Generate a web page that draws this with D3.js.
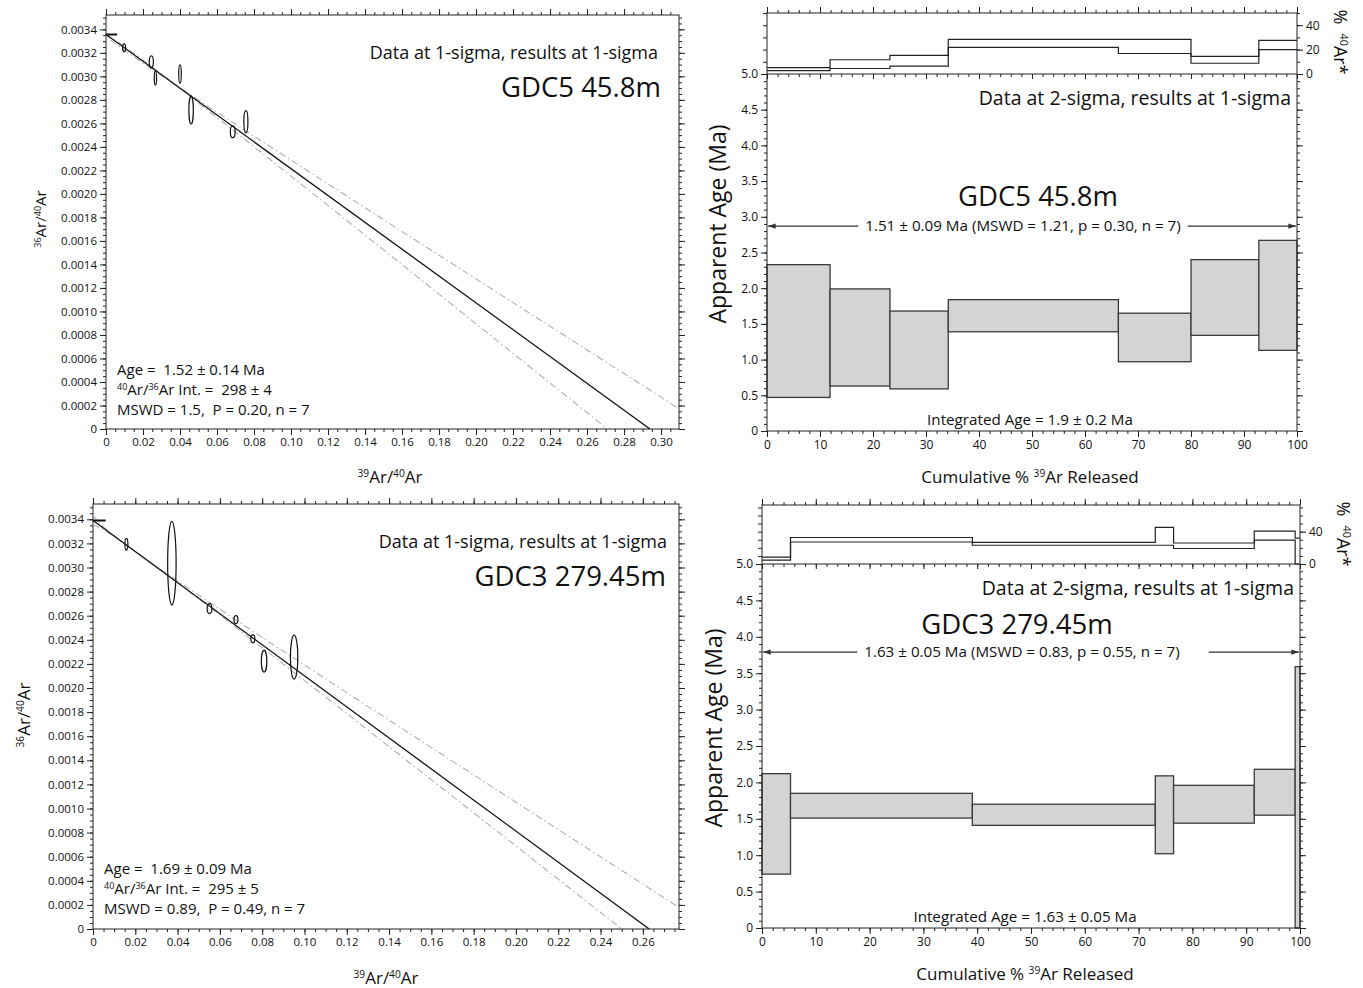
<!DOCTYPE html>
<html>
<head>
<meta charset="utf-8">
<title>GDC5 / GDC3 Ar-Ar isochrons and age spectra</title>
<script src="https://d3js.org/d3.v7.min.js"></script>
<style>
    body { margin: 0; background: #fff; }
    svg { display: block; font-family: "Open Sans", sans-serif; }
    svg text { white-space: pre; }
</style>
</head>
<body>
<div id="chart"></div>
<script>
// ---------- isochron data: 39Ar/40Ar, 36Ar/40Ar, half-widths of the error ellipses
var gdc5IsoX  = [0.0098, 0.0245, 0.0267, 0.0400, 0.0460, 0.0685, 0.0756];
var gdc5IsoY  = [0.003243, 0.003124, 0.002985, 0.003020, 0.002713, 0.002529, 0.002614];
var gdc5IsoSx = [0.0008, 0.0011, 0.0006, 0.0007, 0.0012, 0.0013, 0.0011];
var gdc5IsoSy = [0.000034, 0.000051, 0.000060, 0.000078, 0.000119, 0.000051, 0.000094];
var gdc5Fit   = [[0, 0.003356], [0.294, 0]];
var gdc5Upper = [[0, 0.00338], [0.045, 0.00285], [0.31, 0.00017]];
var gdc5Lower = [[0, 0.003331], [0.045, 0.002835], [0.271, 0]];

var gdc3IsoX  = [0.0158, 0.0373, 0.0551, 0.0676, 0.0756, 0.0809, 0.0951];
var gdc3IsoY  = [0.003193, 0.003036, 0.002659, 0.002568, 0.002408, 0.002223, 0.002256];
var gdc3IsoSx = [0.0007, 0.0020, 0.0011, 0.00095, 0.00095, 0.0013, 0.00175];
var gdc3IsoSy = [0.000048, 0.000346, 0.000042, 0.000033, 0.000033, 0.000091, 0.000183];
var gdc3Fit   = [[0, 0.00339], [0.263, 0]];
var gdc3Upper = [[0, 0.00344], [0.05, 0.00277], [0.277, 0.00018]];
var gdc3Lower = [[0, 0.003353], [0.05, 0.00274], [0.250, 0]];

// ---------- age spectra: cumulative % 39Ar step edges, age box limits (Ma), %40Ar* limits
var gdc5Steps = [0, 11.9, 23.2, 34.2, 66.3, 80.0, 92.8, 100];
var gdc5AgeHi = [2.33, 1.99, 1.68, 1.84, 1.65, 2.40, 2.67];
var gdc5AgeLo = [0.47, 0.63, 0.59, 1.39, 0.97, 1.34, 1.13];
var gdc5ArHi  = [5.3, 11.7, 15.2, 28.3, 28.3, 14.4, 27.5];
var gdc5ArLo  = [2.7, 4.5, 6.4, 21.9, 16.8, 8.8, 20.0];
var gdc5Plateau = 2.87;

var gdc3Steps = [0, 5.3, 39.1, 73.1, 76.5, 91.5, 99.1, 100];
var gdc3AgeHi = [2.12, 1.85, 1.70, 2.09, 1.96, 2.18, 3.59];
var gdc3AgeLo = [0.74, 1.51, 1.41, 1.02, 1.44, 1.55, 0];
var gdc3ArHi  = [8.4, 32.8, 26.8, 45.2, 26.0, 40.8, 32.0];
var gdc3ArLo  = [4.8, 27.2, 23.2, 23.2, 19.2, 29.6, 0];
var gdc3Plateau = 3.79;

var svg = d3.select("#chart").append("svg")
    .attr("width", 1363)
    .attr("height", 988);
var defs = svg.append("defs");
defs.append("marker")
    .attr("id", "arrow")
    .attr("viewBox", "0 0 10 10")
    .attr("refX", 10).attr("refY", 5)
    .attr("markerWidth", 9).attr("markerHeight", 7)
    .attr("orient", "auto-start-reverse")
    .append("path")
        .attr("d", "M0,1.5 L10,5 L0,8.5 z")
        .attr("fill", "#333");

function range(n, step) {
    return d3.range(0, n).map(function(i) { return i * step; });
}

function axis(g, gen, tx, ty, values, size, fmt, fs) {
    var a = g.append("g")
        .attr("transform", "translate(" + tx + "," + ty + ")")
        .call(gen.tickValues(values).tickSize(size).tickSizeOuter(0)
            .tickFormat(fmt || function() { return ""; }));
    a.select(".domain").remove();
    a.selectAll("line").attr("stroke", "#222");
    a.attr("font-family", null).attr("font-size", fs || 11);
    a.selectAll("text").attr("fill", "#111");
    return a;
}

// text with superscripts, parts starting with ^ are raised
function rich(t, parts, fs) {
    var up = false;
    parts.forEach(function(p) {
        var sup = p.charAt(0) === "^";
        var s = t.append("tspan").text(sup ? p.slice(1) : p);
        if (sup) {
            s.attr("font-size", fs * 0.6).attr("dy", -fs * 0.36);
            up = true;
        } else if (up) {
            s.attr("dy", fs * 0.36);
            up = false;
        }
    });
    return t;
}

function label(g, x, y, str, fs, anchor, rot) {
    var t = g.append("text")
        .attr("transform", "translate(" + x + "," + y + ")" + (rot ? " rotate(" + rot + ")" : ""))
        .attr("font-size", fs)
        .attr("text-anchor", anchor || "start")
        .attr("fill", "#111");
    if (Array.isArray(str)) rich(t, str, fs); else t.text(str);
    return t;
}

function isochron(o) {
    var x = d3.scaleLinear().domain([0, o.xMax]).range([o.left, o.right]);
    var y = d3.scaleLinear().domain([0, o.yMax]).range([o.bottom, o.top]);
    var g = svg.append("g");

    defs.append("clipPath").attr("id", "clip" + o.id)
        .append("rect")
            .attr("x", o.left).attr("y", o.top)
            .attr("width", o.right - o.left).attr("height", o.bottom - o.top);

    var majX = range(Math.floor(o.xMax / 0.02 + 1e-9) + 1, 0.02);
    var minX = range(Math.floor(o.xMax / 0.005 + 1e-9) + 1, 0.005);
    var majY = range(18, 0.0002);
    var minY = range(Math.floor(o.yMax / 0.00005 + 1e-9) + 1, 0.00005);

    axis(g, d3.axisBottom(x), 0, o.bottom, minX, 3);
    axis(g, d3.axisBottom(x), 0, o.bottom, majX, 6, function(d) { return d === 0 ? "0" : d.toFixed(2); }, 11.5);
    axis(g, d3.axisTop(x), 0, o.top, minX, 3);
    axis(g, d3.axisTop(x), 0, o.top, majX, 6);
    axis(g, d3.axisLeft(y), o.left, 0, minY, 3);
    axis(g, d3.axisLeft(y), o.left, 0, majY, 6, function(d) { return d === 0 ? "0" : d.toFixed(4); }, 11.5);
    axis(g, d3.axisRight(y), o.right, 0, minY, 3);
    axis(g, d3.axisRight(y), o.right, 0, majY, 6);

    g.append("rect")
        .attr("x", o.left).attr("y", o.top)
        .attr("width", o.right - o.left).attr("height", o.bottom - o.top)
        .attr("fill", "none").attr("stroke", "#222");

    var line = d3.line()
        .x(function(d) { return x(d[0]); })
        .y(function(d) { return y(d[1]); });
    var curve = d3.line()
        .x(function(d) { return x(d[0]); })
        .y(function(d) { return y(d[1]); })
        .curve(d3.curveNatural);

    var plot = g.append("g").attr("clip-path", "url(#clip" + o.id + ")");
    [o.upper, o.lower].forEach(function(env) {
        plot.append("path")
            .attr("d", curve(env))
            .attr("fill", "none")
            .attr("stroke", "#b0b0b0")
            .attr("stroke-width", 1.1)
            .attr("stroke-dasharray", "7,3,1.5,3");
    });
    plot.append("path")
        .attr("d", line(o.fit))
        .attr("fill", "none")
        .attr("stroke", "#111")
        .attr("stroke-width", 1.3);

    // intercept marker on the y axis
    plot.append("line")
        .attr("x1", x(0)).attr("x2", x(0.006))
        .attr("y1", y(o.fit[0][1])).attr("y2", y(o.fit[0][1]))
        .attr("stroke", "#111").attr("stroke-width", 2);

    plot.selectAll("ellipse")
        .data(o.xs)
        .enter()
        .append("ellipse")
            .attr("cx", function(d) { return x(d); })
            .attr("cy", function(d, i) { return y(o.ys[i]); })
            .attr("rx", function(d, i) { return x(o.sx[i]) - x(0); })
            .attr("ry", function(d, i) { return y(0) - y(o.sy[i]); })
            .attr("fill", "none")
            .attr("stroke", "#111")
            .attr("stroke-width", 1.2);

    label(g, o.right - o.noteDx, o.top + 44, "Data at 1-sigma, results at 1-sigma", 18, "end");
    label(g, o.right - o.nameDx, o.top + 82, o.name, 27.5, "end");
    o.stats.forEach(function(s, i) {
        label(g, o.left + o.statsDx, o.statsY + i * 20, s, 15);
    });
    label(g, o.xLab[0], o.xLab[1], ["^39", "Ar/", "^40", "Ar"], 17, "middle");
    label(g, o.yLab[0], o.yLab[1], ["^36", "Ar/", "^40", "Ar"], o.yLab[2], "middle", -90);
}

function spectrum(o) {
    var x = d3.scaleLinear().domain([0, 100]).range([o.left, o.right]);
    var y = d3.scaleLinear().domain([0, 5]).range([o.bottom, o.mid]);
    var yAr = d3.scaleLinear().domain([0, o.arMax]).range([o.mid, o.top]);
    var g = svg.append("g");

    var n = o.ageHi.length;
    var boxes = d3.range(n);
    g.selectAll("rect.box")
        .data(boxes)
        .enter()
        .append("rect")
            .attr("class", "box")
            .attr("x", function(i) { return x(o.steps[i]); })
            .attr("width", function(i) { return x(o.steps[i + 1]) - x(o.steps[i]); })
            .attr("y", function(i) { return y(o.ageHi[i]); })
            .attr("height", function(i) { return y(o.ageLo[i]) - y(o.ageHi[i]); })
            .attr("fill", "#d4d4d4")
            .attr("stroke", "#3a3a3a")
            .attr("stroke-width", 1.3);

    var step = d3.line()
        .x(function(d) { return x(d[0]); })
        .y(function(d) { return yAr(d[1]); })
        .curve(d3.curveStepAfter);
    [o.arHi, o.arLo].forEach(function(vals) {
        var pts = vals.map(function(v, i) { return [o.steps[i], v]; });
        pts.push([100, vals[n - 1]]);
        g.append("path")
            .attr("d", step(pts))
            .attr("fill", "none")
            .attr("stroke", "#222")
            .attr("stroke-width", 1.2);
    });

    var majX = range(11, 10), minX = range(51, 2);
    var majA = range(11, 0.5), minA = range(51, 0.1);
    var arMinor = range(Math.floor(o.arMax / 10) + 1, 10);
    axis(g, d3.axisBottom(x), 0, o.bottom, minX, 3);
    axis(g, d3.axisBottom(x), 0, o.bottom, majX, 6, function(d) { return d; }, 12);
    axis(g, d3.axisTop(x), 0, o.top, minX, 3);
    axis(g, d3.axisTop(x), 0, o.top, majX, 6);
    axis(g, d3.axisBottom(x), 0, o.mid, minX, 3);
    axis(g, d3.axisBottom(x), 0, o.mid, majX, 5);
    axis(g, d3.axisLeft(y), o.left, 0, minA, 3);
    axis(g, d3.axisLeft(y), o.left, 0, majA, 6, function(d) { return d === 0 ? "0" : d.toFixed(1); }, 12);
    axis(g, d3.axisRight(y), o.right, 0, minA, 3);
    axis(g, d3.axisRight(y), o.right, 0, majA, 6);
    axis(g, d3.axisLeft(yAr), o.left, 0, arMinor.slice(1), 4);
    axis(g, d3.axisRight(yAr), o.right, 0, arMinor, 3);
    axis(g, d3.axisRight(yAr), o.right, 0, o.arLabels, 6, function(d) { return d; }, 12);

    g.append("rect")
        .attr("x", o.left).attr("y", o.top)
        .attr("width", o.right - o.left).attr("height", o.bottom - o.top)
        .attr("fill", "none").attr("stroke", "#222");
    g.append("line")
        .attr("x1", o.left).attr("x2", o.right)
        .attr("y1", o.mid).attr("y2", o.mid)
        .attr("stroke", "#222");

    // plateau arrow, with a white gap behind its text
    var py = y(o.plateau);
    g.append("line")
        .attr("x1", x(0) + 1).attr("x2", x(100) - 1)
        .attr("y1", py).attr("y2", py)
        .attr("stroke", "#333").attr("stroke-width", 1.1)
        .attr("marker-start", "url(#arrow)")
        .attr("marker-end", "url(#arrow)");
    var pt = label(g, o.plateauX, py + 5, o.plateauText, 15.2, "middle");
    var bb = pt.node().getBBox();
    g.insert("rect", function() { return pt.node(); })
        .attr("transform", pt.attr("transform"))
        .attr("x", bb.x - 7).attr("y", bb.y + 2)
        .attr("width", bb.width + 14 + o.gapExtra).attr("height", bb.height - 4)
        .attr("fill", "#fff");

    label(g, o.right - 6, o.mid + 31, "Data at 2-sigma, results at 1-sigma", 19.5, "end");
    label(g, o.nameX, o.nameY, o.name, 27.5, "middle");
    label(g, o.intX, o.bottom - 6, o.intText, 15.2, "middle");
    label(g, o.intX, o.bottom + 52, ["Cumulative % ", "^39", "Ar Released"], 17, "middle");
    label(g, o.yLabX, o.yLabY, "Apparent Age (Ma)", 23, "middle", -90);
    label(g, o.right + 37, o.top + 29, ["%  ", "^40", "Ar*"], 18, "middle", 90)
        .attr("font-weight", 500);
}

isochron({
    id: "a", left: 106, right: 679, top: 15, bottom: 429, xMax: 0.3097, yMax: 0.003522,
    xs: gdc5IsoX, ys: gdc5IsoY, sx: gdc5IsoSx, sy: gdc5IsoSy,
    fit: gdc5Fit, upper: gdc5Upper, lower: gdc5Lower,
    name: "GDC5 45.8m", noteDx: 21, nameDx: 18,
    stats: ["Age =  1.52 \u00b1 0.14 Ma", ["^40", "Ar/", "^36", "Ar Int. =  298 \u00b1 4"], "MSWD = 1.5,  P = 0.20, n = 7"],
    statsDx: 11, statsY: 375,
    xLab: [390, 483], yLab: [46, 219, 15]
});

isochron({
    id: "b", left: 93, right: 679, top: 504, bottom: 929, xMax: 0.2771, yMax: 0.003527,
    xs: gdc3IsoX, ys: gdc3IsoY, sx: gdc3IsoSx, sy: gdc3IsoSy,
    fit: gdc3Fit, upper: gdc3Upper, lower: gdc3Lower,
    name: "GDC3 279.45m", noteDx: 12, nameDx: 13,
    stats: ["Age =  1.69 \u00b1 0.09 Ma", ["^40", "Ar/", "^36", "Ar Int. =  295 \u00b1 5"], "MSWD = 0.89,  P = 0.49, n = 7"],
    statsDx: 11, statsY: 874,
    xLab: [386, 984], yLab: [30, 715, 17]
});

spectrum({
    left: 767, right: 1297, top: 13, mid: 74, bottom: 431, arMax: 50, arLabels: [0, 20, 40],
    steps: gdc5Steps, ageHi: gdc5AgeHi, ageLo: gdc5AgeLo, arHi: gdc5ArHi, arLo: gdc5ArLo,
    plateau: gdc5Plateau, plateauX: 1023, gapExtra: 0,
    plateauText: "1.51 \u00b1 0.09 Ma (MSWD = 1.21, p = 0.30, n = 7)",
    name: "GDC5 45.8m", nameX: 1038, nameY: 206,
    intX: 1030, intText: "Integrated Age = 1.9 \u00b1 0.2 Ma",
    yLabX: 726, yLabY: 224
});

spectrum({
    left: 762, right: 1300, top: 505, mid: 564, bottom: 928, arMax: 73, arLabels: [0, 40],
    steps: gdc3Steps, ageHi: gdc3AgeHi, ageLo: gdc3AgeLo, arHi: gdc3ArHi, arLo: gdc3ArLo,
    plateau: gdc3Plateau, plateauX: 1022, gapExtra: 22,
    plateauText: "1.63 \u00b1 0.05 Ma (MSWD = 0.83, p = 0.55, n = 7)",
    name: "GDC3 279.45m", nameX: 1017, nameY: 634,
    intX: 1025, intText: "Integrated Age = 1.63 \u00b1 0.05 Ma",
    yLabX: 722, yLabY: 728
});
</script>
</body>
</html>
